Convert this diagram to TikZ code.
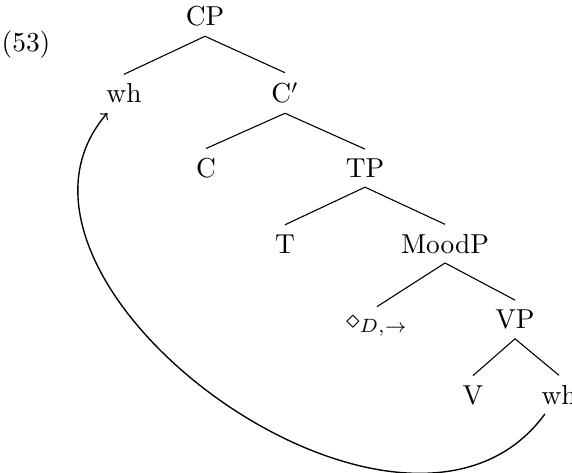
\documentclass[tikz,border=0pt]{standalone}
\usepackage{amsmath,amssymb}

\begin{document}
\begin{tikzpicture}[
  x=0.365pt,y=-0.365pt,
  cat/.style={anchor=base},
  br/.style={line width=0.4pt},
  mv/.style={->,line width=0.5pt}
]
\useasboundingbox (0,0) rectangle (572,473);
% example number
\node[anchor=base] (num) at (26,52) {(53)};
% tree
\node[cat] (cp) at (205,26) {CP};
\node[cat] (wha) at (124,103) {wh};
\node[cat] (cbar) at (285,103) {C$'$};
\node[cat] (c) at (206,177.5) {C};
\node[cat] (tp) at (365,177.5) {TP};
\node[cat] (t) at (285,253) {T};
\node[cat] (moodp) at (445,253) {MoodP};
\node[cat] (mood) at (377,328.5) {$\diamond_{D,\rightarrow}$};
\node[cat] (vp) at (515,328.5) {VP};
\node[cat] (v) at (473,404) {V};
\node[cat] (whb) at (559,404) {wh};

\draw[br] (cp.south) -- (wha.north);
\draw[br] (cp.south) -- (cbar.north);
\draw[br] (cbar.south) -- (c.north);
\draw[br] (cbar.south) -- (tp.north);
\draw[br] (tp.south) -- (t.north);
\draw[br] (tp.south) -- (moodp.north);
\draw[br] (moodp.south) -- (mood.north);
\draw[br] (moodp.south) -- (vp.north);
\draw[br] (vp.south) -- (v.north);
\draw[br] (vp.south) -- (whb.north);

% movement
\draw[mv] (whb) .. controls (404,607) and (-38,282) .. (wha);
\end{tikzpicture}
\end{document}
